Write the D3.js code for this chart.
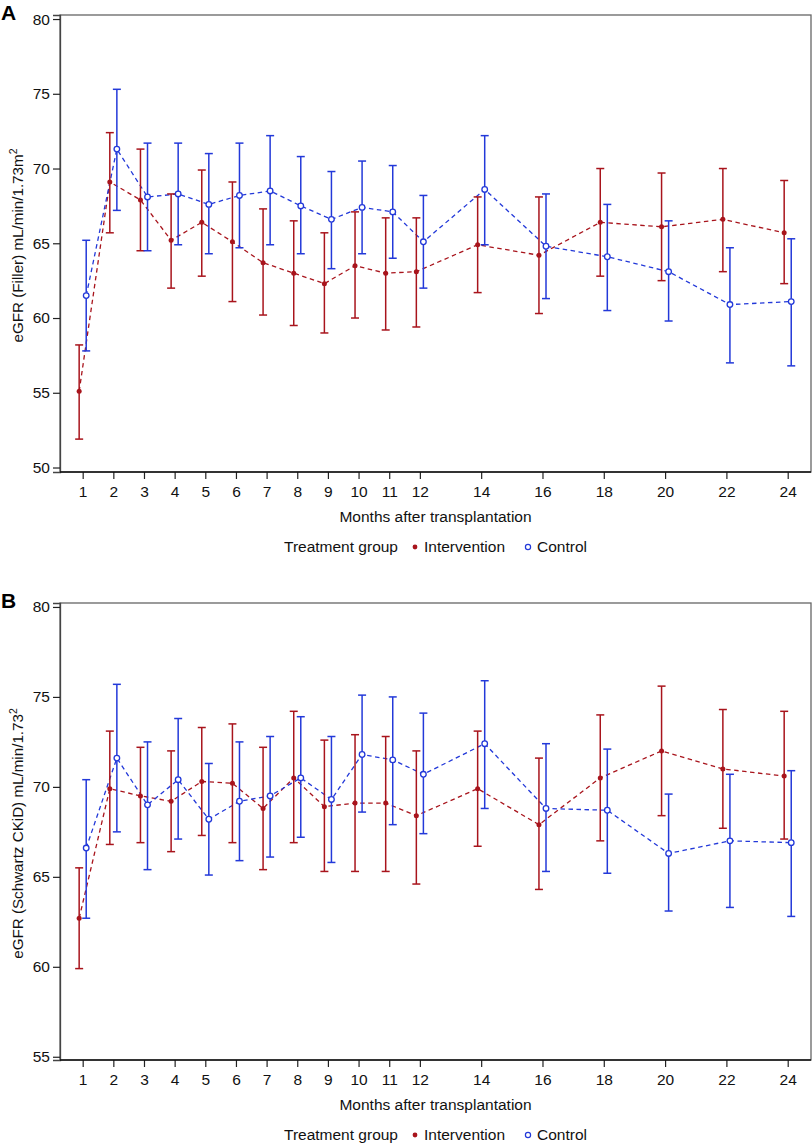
<!DOCTYPE html>
<html>
<head>
<meta charset="utf-8">
<script src="https://cdn.jsdelivr.net/npm/d3@7"></script>
<style>
  html, body { margin: 0; padding: 0; background: #fff; }
  svg { display: block; font-family: "Liberation Sans", Arial, Helvetica, sans-serif; }
</style>
</head>
<body>
<svg id="chart" width="812" height="1143"></svg>
<script>
// ---- data ----
const months = [1, 2, 3, 4, 5, 6, 7, 8, 9, 10, 11, 12, 14, 16, 18, 20, 22, 24];
const xTickLabels = months.map(String);

// Panel A: eGFR (Filler)
const aIntMean  = [55.1, 69.1, 67.9, 65.2, 66.4, 65.1, 63.7, 63.0, 62.3, 63.5, 63.0, 63.1, 64.9, 64.2, 66.4, 66.1, 66.6, 65.7];
const aIntLow   = [51.9, 65.7, 64.5, 62.0, 62.8, 61.1, 60.2, 59.5, 59.0, 60.0, 59.2, 59.4, 61.7, 60.3, 62.8, 62.5, 63.1, 62.3];
const aIntHigh  = [58.2, 72.4, 71.3, 68.3, 69.9, 69.1, 67.3, 66.5, 65.7, 67.1, 66.7, 66.7, 68.1, 68.1, 70.0, 69.7, 70.0, 69.2];
const aCtlMean  = [61.5, 71.3, 68.1, 68.3, 67.6, 68.2, 68.5, 67.5, 66.6, 67.4, 67.1, 65.1, 68.6, 64.8, 64.1, 63.1, 60.9, 61.1];
const aCtlLow   = [57.8, 67.2, 64.5, 64.9, 64.3, 64.7, 64.9, 64.3, 63.3, 64.3, 64.0, 62.0, 64.9, 61.3, 60.5, 59.8, 57.0, 56.8];
const aCtlHigh  = [65.2, 75.3, 71.7, 71.7, 71.0, 71.7, 72.2, 70.8, 69.8, 70.5, 70.2, 68.2, 72.2, 68.3, 67.6, 66.5, 64.7, 65.3];
const aYTicks   = [50, 55, 60, 65, 70, 75, 80];

// Panel B: eGFR (Schwartz CKiD)
const bIntMean  = [62.7, 69.9, 69.5, 69.2, 70.3, 70.2, 68.8, 70.5, 68.9, 69.1, 69.1, 68.4, 69.9, 67.9, 70.5, 72.0, 71.0, 70.6];
const bIntLow   = [59.9, 66.8, 66.9, 66.4, 67.3, 66.9, 65.4, 66.9, 65.3, 65.3, 65.3, 64.6, 66.7, 64.3, 67.0, 68.4, 67.7, 67.1];
const bIntHigh  = [65.5, 73.1, 72.2, 72.0, 73.3, 73.5, 72.2, 74.2, 72.6, 72.9, 72.8, 72.0, 73.1, 71.6, 74.0, 75.6, 74.3, 74.2];
const bCtlMean  = [66.6, 71.6, 69.0, 70.4, 68.2, 69.2, 69.5, 70.5, 69.3, 71.8, 71.5, 70.7, 72.4, 68.8, 68.7, 66.3, 67.0, 66.9];
const bCtlLow   = [62.7, 67.5, 65.4, 67.1, 65.1, 65.9, 66.1, 67.2, 65.8, 68.6, 67.9, 67.4, 68.8, 65.3, 65.2, 63.1, 63.3, 62.8];
const bCtlHigh  = [70.4, 75.7, 72.5, 73.8, 71.3, 72.5, 72.8, 73.9, 72.8, 75.1, 75.0, 74.1, 75.9, 72.4, 72.1, 69.6, 70.7, 70.9];
const bYTicks   = [55, 60, 65, 70, 75, 80];

const groupNames = ["Intervention", "Control"];
// ---- end data ----

const RED = "#a8141c";
const BLUE = "#2339d9";
const FS = 15.5;
const svg = d3.select("#chart");

function series(mean, low, high) {
  return months.map((m, i) => ({ m, v: mean[i], lo: low[i], hi: high[i] }));
}

function drawPanel(cfg) {
  const g = svg.append("g");
  const x = d3.scaleLinear().domain([0.26, 24.76]).range([60, 811]);
  const y = d3.scaleLinear().domain(cfg.yDomain).range([cfg.bottom, cfg.top]);
  const off = 0.115;

  // frame
  g.append("rect")
    .attr("x", 60).attr("y", cfg.top)
    .attr("width", 751).attr("height", cfg.bottom - cfg.top)
    .attr("fill", "none").attr("stroke", "#666").attr("stroke-width", 1.3);

  // y axis
  const yAxis = d3.axisLeft(y).tickValues(cfg.yTicks).tickSize(7).tickPadding(3).tickFormat(d3.format("d"));
  const ya = g.append("g").attr("transform", "translate(60,0)").call(yAxis);
  ya.select(".domain").attr("stroke", "#444").attr("stroke-width", 1.3);
  ya.selectAll(".tick line").attr("stroke", "#222").attr("stroke-width", 1.2);
  ya.selectAll(".tick text").attr("font-size", FS).attr("fill", "#111")
    .attr("font-family", "Liberation Sans, Arial, sans-serif");

  // x axis
  const xAxis = d3.axisBottom(x).tickValues(months).tickSize(7).tickPadding(7)
    .tickFormat((d, i) => xTickLabels[i]);
  const xa = g.append("g").attr("transform", `translate(0,${cfg.bottom})`).call(xAxis);
  xa.select(".domain").remove();
  g.append("line").attr("x1", 60).attr("x2", 811).attr("y1", cfg.bottom).attr("y2", cfg.bottom)
    .attr("stroke", "#111").attr("stroke-width", 1.5);
  xa.selectAll(".tick line").attr("stroke", "#222").attr("stroke-width", 1.2);
  xa.selectAll(".tick text").attr("font-size", FS).attr("fill", "#111")
    .attr("font-family", "Liberation Sans, Arial, sans-serif");

  // panel letter
  g.append("text").attr("x", 1).attr("y", cfg.top + 5).text(cfg.letter)
    .attr("font-size", 21).attr("font-weight", "bold").attr("fill", "#000");

  // y title
  const yt = g.append("text")
    .attr("transform", `translate(23,${(cfg.top + cfg.bottom) / 2 + 2}) rotate(-90)`)
    .attr("text-anchor", "middle").attr("font-size", 15.2).attr("fill", "#111");
  yt.append("tspan").text(cfg.yTitle);
  yt.append("tspan").attr("dy", -6).attr("font-size", 10.5).text("2");

  // x title
  g.append("text").attr("x", (60 + 811) / 2).attr("y", cfg.bottom + 50)
    .attr("text-anchor", "middle").attr("font-size", FS).attr("fill", "#111")
    .text("Months after transplantation");

  // legend
  const ly = cfg.bottom + 75;
  const lg = g.append("g").attr("font-size", FS).attr("fill", "#111");
  lg.append("text").attr("x", 398).attr("y", ly + 5).attr("text-anchor", "end").text("Treatment group");
  lg.append("circle").attr("cx", 415).attr("cy", ly).attr("r", 2.4).attr("fill", RED);
  lg.append("text").attr("x", 424).attr("y", ly + 5).text(groupNames[0]);
  lg.append("circle").attr("cx", 528).attr("cy", ly).attr("r", 2.6).attr("fill", "none")
    .attr("stroke", BLUE).attr("stroke-width", 1.2);
  lg.append("text").attr("x", 537).attr("y", ly + 5).text(groupNames[1]);

  const groups = [
    { data: cfg.int, color: RED, dx: -off, filled: true },
    { data: cfg.ctl, color: BLUE, dx: off, filled: false }
  ];

  groups.forEach(gr => {
    g.append("path").datum(gr.data)
      .attr("d", d3.line().x(d => x(d.m + gr.dx)).y(d => y(d.v)))
      .attr("fill", "none").attr("stroke", gr.color).attr("stroke-width", 1.3)
      .attr("stroke-dasharray", "4.5,3.5");
  });

  groups.forEach(gr => {
    const eb = g.append("g").attr("stroke", gr.color).attr("stroke-width", 1.5);
    eb.selectAll("line.v").data(gr.data).join("line")
      .attr("x1", d => x(d.m + gr.dx)).attr("x2", d => x(d.m + gr.dx))
      .attr("y1", d => y(d.lo)).attr("y2", d => y(d.hi));
    eb.selectAll("line.t").data(gr.data).join("line")
      .attr("x1", d => x(d.m + gr.dx) - 4).attr("x2", d => x(d.m + gr.dx) + 4)
      .attr("y1", d => y(d.hi)).attr("y2", d => y(d.hi));
    eb.selectAll("line.b").data(gr.data).join("line")
      .attr("x1", d => x(d.m + gr.dx) - 4).attr("x2", d => x(d.m + gr.dx) + 4)
      .attr("y1", d => y(d.lo)).attr("y2", d => y(d.lo));
  });

  groups.forEach(gr => {
    g.append("g").selectAll("circle").data(gr.data).join("circle")
      .attr("cx", d => x(d.m + gr.dx)).attr("cy", d => y(d.v))
      .attr("r", gr.filled ? 2.5 : 2.8)
      .attr("fill", gr.filled ? gr.color : "#fff")
      .attr("stroke", gr.color).attr("stroke-width", gr.filled ? 0 : 1.3);
  });
}

drawPanel({
  letter: "A", top: 15, bottom: 472, yDomain: [49.7, 80.27], yTicks: aYTicks,
  yTitle: "eGFR (Filler) mL/min/1.73m",
  int: series(aIntMean, aIntLow, aIntHigh),
  ctl: series(aCtlMean, aCtlLow, aCtlHigh)
});
drawPanel({
  letter: "B", top: 603, bottom: 1060, yDomain: [54.82, 80.22], yTicks: bYTicks,
  yTitle: "eGFR (Schwartz CKiD) mL/min/1.73",
  int: series(bIntMean, bIntLow, bIntHigh),
  ctl: series(bCtlMean, bCtlLow, bCtlHigh)
});
</script>
</body>
</html>
